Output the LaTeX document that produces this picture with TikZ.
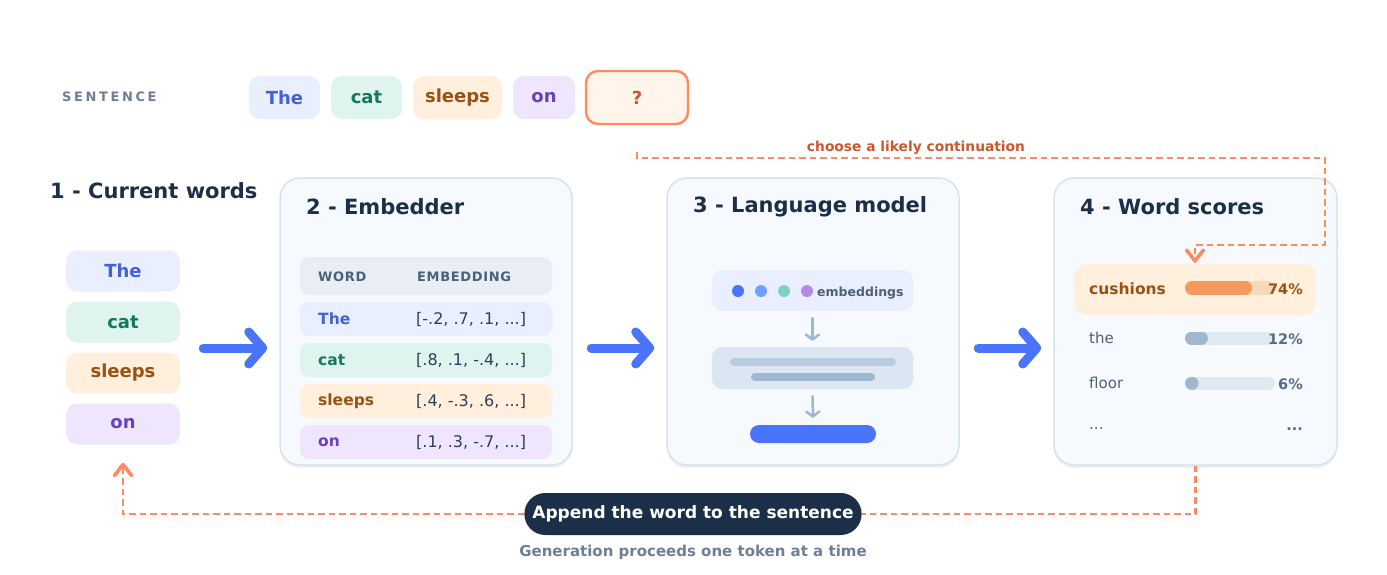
\documentclass[tikz,border=0pt]{standalone}
\usepackage{fontspec}
\setmainfont{DejaVu Sans}
\usepackage{tikz}
\usetikzlibrary{arrows.meta,positioning,shadows}

\definecolor{navy}{HTML}{1B2F48}
\definecolor{slate}{HTML}{4D6079}
\definecolor{muted}{HTML}{6E7F95}
\definecolor{blueT}{HTML}{4461D6}
\definecolor{blueF}{HTML}{E9EFFE}
\definecolor{greenT}{HTML}{147A5E}
\definecolor{greenF}{HTML}{DFF4EE}
\definecolor{orangeT}{HTML}{995211}
\definecolor{orangeF}{HTML}{FFEFDC}
\definecolor{purpleT}{HTML}{6A42B8}
\definecolor{purpleF}{HTML}{EFE5FD}
\definecolor{accent}{HTML}{FF8A5F}
\definecolor{accentT}{HTML}{CF562C}
\definecolor{arrblue}{HTML}{4A74FB}
\definecolor{dotA}{HTML}{6FA0FF}
\definecolor{dotB}{HTML}{7DD3C0}
\definecolor{dotC}{HTML}{B38AE6}
\definecolor{panelF}{HTML}{F6F9FD}
\definecolor{panelD}{HTML}{D6E3EF}
\definecolor{headF}{HTML}{E8EEF4}
\definecolor{midF}{HTML}{DBE6F2}
\definecolor{barA}{HTML}{B8CDE2}
\definecolor{barB}{HTML}{9FB8D0}
\definecolor{trackF}{HTML}{E1E8EF}
\definecolor{trackO}{HTML}{F6D9B8}
\definecolor{fillO}{HTML}{F59A5C}
\definecolor{valT}{HTML}{2D3F57}
\definecolor{pctT}{HTML}{5A6B82}

\begin{document}
\begin{tikzpicture}[x=1pt, y=-1pt,
    tok/.style={rounded corners=11pt, inner sep=0pt, minimum height=#1,
      font=\fontsize{18}{20}\selectfont\bfseries},
    tok/.default=41pt,
    title/.style={anchor=west, inner xsep=0pt, text=navy, font=\fontsize{21}{24}\selectfont\bfseries},
    panel/.style={draw=panelD, line width=1.5pt, fill=panelF, rounded corners=20pt,
      minimum width=#1, minimum height=287pt,
      drop shadow={shadow xshift=0pt, shadow yshift=-3pt, opacity=.06, fill=black}},
    row/.style={rounded corners=9pt, minimum width=252pt, minimum height=34pt, inner sep=0pt},
    cell/.style={anchor=west, inner xsep=0pt, font=\fontsize{16}{18}\selectfont},
    word/.style={cell, font=\fontsize{15.5}{17}\selectfont\bfseries},
    bigarr/.style={arrblue, line width=9pt, line cap=round,
      -{Straight Barb[length=14pt, width=32pt, round]}},
    smallarr/.style={barB, line width=2.5pt, line cap=round,
      -{Straight Barb[length=5pt, width=13pt, round]}},
    loopline/.style={accent, line width=2.5pt, dash pattern=on 6.5pt off 4pt},
    looptip/.style={-{Straight Barb[length=11pt, width=17pt, round, line width=3.6pt]}},
    bar/.style={line width=#1, line cap=round},
    pct/.style={anchor=east, inner xsep=0pt, font=\fontsize{14.5}{16}\selectfont\bfseries}]
  \useasboundingbox (0,0) rectangle (1387,574);

  % sentence row
  \node [anchor=west, inner xsep=0pt, text=muted, font=\fontsize{13}{15}\selectfont\bfseries\addfontfeature{LetterSpace=20}] (sent) at (62,97) {SENTENCE};
  \node [tok=43pt, fill=blueF, text=blueT, minimum width=71pt] (sThe) at (284.5,97.5) {The};
  \node [tok=43pt, fill=greenF, text=greenT, minimum width=71pt] (sCat) at (366.5,97.5) {cat};
  \node [tok=43pt, fill=orangeF, text=orangeT, minimum width=89pt] (sSleeps) at (457.5,97.5) {sleeps};
  \node [tok=43pt, fill=purpleF, text=purpleT, minimum width=62pt] (sOn) at (544,97.5) {on};
  \node [tok=53pt, fill=orangeF!60!white, draw=accent, line width=2.4pt, text=accentT, minimum width=102pt, rounded corners=12pt] (q) at (637,97.5) {?};

  % 1 - current words
  \node [title] (t1) at (50,191) {1 - Current words};
  \node [tok, fill=blueF, text=blueT, minimum width=114pt] (wThe) at (123,271) {The};
  \node [tok, fill=greenF, text=greenT, minimum width=114pt] (wCat) at (123,322) {cat};
  \node [tok, fill=orangeF, text=orangeT, minimum width=114pt] (wSleeps) at (123,373) {sleeps};
  \node [tok, fill=purpleF, text=purpleT, minimum width=114pt] (wOn) at (123,424) {on};

  % 2 - embedder
  \node [panel=292pt] (emb) at (426,321.5) {};
  \node [title] (t2) at (306,207) {2 - Embedder};
  \node [row, fill=headF, minimum height=38pt] (hd) at (426,276) {};
  \node [cell, text=slate, font=\fontsize{13}{15}\selectfont\bfseries\addfontfeature{LetterSpace=5}] at (318,277) {WORD};
  \node [cell, text=slate, font=\fontsize{13}{15}\selectfont\bfseries\addfontfeature{LetterSpace=5}] at (417,277) {EMBEDDING};
  \node [row, fill=blueF] (r1) at (426,319) {};
  \node [row, fill=greenF] (r2) at (426,360) {};
  \node [row, fill=orangeF] (r3) at (426,401) {};
  \node [row, fill=purpleF] (r4) at (426,442) {};
  \node [word, text=blueT] at (318,319) {The};
  \node [word, text=greenT] at (318,360) {cat};
  \node [word, text=orangeT] at (318,401) {sleeps};
  \node [word, text=purpleT] at (318,442) {on};
  \node [cell, text=valT] at (416,319) {[-.2, .7, .1, ...]};
  \node [cell, text=valT] at (416,360) {[.8, .1, -.4, ...]};
  \node [cell, text=valT] at (416,401) {[.4, -.3, .6, ...]};
  \node [cell, text=valT] at (416,442) {[.1, .3, -.7, ...]};

  % 3 - language model
  \node [panel=292pt] (lm) at (813,321.5) {};
  \node [title] (t3) at (693,207) {3 - Language model};
  \node [rounded corners=10pt, fill=blueF, minimum width=201pt, minimum height=41pt] (inp) at (812.5,290.5) {};
  \foreach \x/\c in {738/arrblue, 761/dotA, 784/dotB, 807/dotC}
    \fill [\c] (\x,291) circle (6pt);
  \node [anchor=west, text=slate, font=\fontsize{12.5}{14}\selectfont\bfseries, inner sep=0pt] at (817,293) {embeddings};
  \node [rounded corners=10pt, fill=midF, minimum width=201pt, minimum height=42pt] (mid) at (812.5,368) {};
  \draw [bar=8pt, barA] (734,362) -- (892,362);
  \draw [bar=8pt, barB] (755,377) -- (871,377);
  \node [rounded corners=9pt, fill=arrblue, minimum width=126pt, minimum height=18pt, inner sep=0pt] (out) at (813,434) {};
  \draw [smallarr] ([yshift=-7pt]inp.south) -- ([yshift=6pt]mid.north);
  \draw [smallarr] ([yshift=-7pt]mid.south) -- ([yshift=7pt]out.north);

  % 4 - word scores
  \node [panel=283pt] (ws) at (1195.5,321.5) {};
  \node [title] (t4) at (1080,207) {4 - Word scores};
  \node [rounded corners=12pt, fill=orangeF, minimum width=242pt, minimum height=51pt] (cush) at (1195,289.5) {};
  \node [cell, text=orangeT, font=\fontsize{15.5}{17}\selectfont\bfseries] at (1089,289) {cushions};
  \draw [bar=14pt, trackO] (1192,288) -- (1268,288);
  \draw [bar=14pt, fillO] (1192,288) -- (1245,288);
  \node [pct, text=orangeT] at (1303,289) {74\%};
  \node [cell, text=slate, font=\fontsize{15}{17}\selectfont] at (1089,338) {the};
  \draw [bar=13pt, trackF] (1191.5,338) -- (1268.5,338);
  \draw [bar=13pt, barB] (1191.5,338) -- (1201.5,338);
  \node [pct, text=pctT] at (1303,339) {12\%};
  \node [cell, text=slate, font=\fontsize{15}{17}\selectfont] at (1089,383) {floor};
  \draw [bar=13pt, trackF] (1191.5,383) -- (1268.5,383);
  \draw [bar=13pt, barB] (1191.5,383) -- (1192,383);
  \node [pct, text=pctT] at (1303,384) {6\%};
  \node [cell, text=slate, font=\fontsize{15}{17}\selectfont] at (1089,429) {...};
  \node [pct, text=pctT] at (1303,429) {...};

  % big arrows between stages
  \draw [bigarr] ([shift={(-76pt,-26.5pt)}]emb.west) -- ([shift={(-12pt,-26.5pt)}]emb.west);
  \draw [bigarr] ([shift={(-75pt,-26.5pt)}]lm.west) -- ([shift={(-12pt,-26.5pt)}]lm.west);
  \draw [bigarr] ([shift={(-75pt,-26.5pt)}]ws.west) -- ([shift={(-12pt,-26.5pt)}]ws.west);

  % choose loop
  \draw [loopline, looptip] ([yshift=-27pt]q.south) |- (1325,158) |- (1195,245) -- ([yshift=1pt]cush.north);
  \node [text=accentT, font=\fontsize{13.8}{15}\selectfont\bfseries] (lbl) at (916,148) {choose a likely continuation};

  % append loop
  \node [fill=navy, text=white, rounded corners=21pt, minimum height=42pt, inner xsep=8pt,
    font=\fontsize{17}{19}\selectfont\bfseries] (app) at (693,514) {Append the word to the sentence};
  \draw [loopline] (ws.south) |- (app.east);
  \draw [loopline, looptip] (app.west) -| ([yshift=-18pt]wOn.south);
  \node [text=muted, font=\fontsize{15}{17}\selectfont\bfseries] (note) at (693,552) {Generation proceeds one token at a time};
\end{tikzpicture}
\end{document}
